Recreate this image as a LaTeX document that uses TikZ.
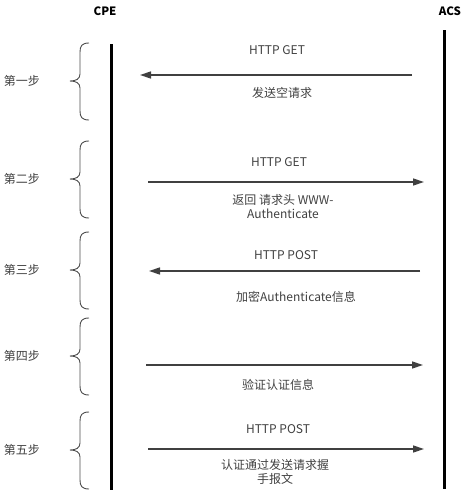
\documentclass[tikz,border=0pt]{standalone}
\usepackage{fontspec}
\setmainfont{Noto Sans CJK SC}
\usetikzlibrary{arrows.meta}

\begin{document}
\begin{tikzpicture}[
		x=1pt,
		y=-1pt,
		msg/.style={draw=black!75,line width=1.4pt,-{Triangle[length=11pt,width=7pt]}},
		life/.style={line width=3pt},
		lbl/.style={font=\fontsize{12}{14}\selectfont,text=black!75,inner sep=0pt,align=center},
		head/.style={font=\bfseries\fontsize{11.5}{13}\selectfont,inner sep=0pt},
		bracepath/.style={draw=black!70,line width=0.9pt},
	]
		\useasboundingbox (0,0) rectangle (474,496);
		
		\node[head] (cpe) at (105,11) {CPE};
		\node[head] (acs) at (450,11) {ACS};
		\coordinate (cpetop) at (111,44);
		\coordinate (cpebot) at (111,490);
		\coordinate (acstop) at (444,30);
		\coordinate (acsbot) at (444,489);
		\draw[life] (cpetop) -- (cpebot);
		\draw[life] (acstop) -- (acsbot);
		
		\foreach \n/\y/\t in {1/43/第一步,2/141/第二步,3/232/第三步,4/318/第四步,5/412/第五步}{
			\node[lbl] (step\n) at (22,\y+38) {\t};
			\draw[bracepath] (89,\y) .. controls (82,\y) and (80,\y+3) .. (80,\y+9) -- (80,\y+31)
				.. controls (80,\y+36) and (76,\y+38) .. (70,\y+38)
				.. controls (76,\y+38) and (80,\y+40) .. (80,\y+45) -- (80,\y+68)
				.. controls (80,\y+74) and (82,\y+77) .. (89,\y+77);
		}
		
		% step 1
		\coordinate (s1a) at (412,75);
		\coordinate (s1b) at (140,75);
		\draw[msg] (s1a) -- (s1b);
		\node[lbl] (get1) at (277,50) {HTTP GET};
		\node[lbl] (txt1) at (282,93) {发送空请求};
		
		% step 2
		\coordinate (s2a) at (148,182);
		\coordinate (s2b) at (424,182);
		\draw[msg] (s2a) -- (s2b);
		\node[lbl] (get2) at (279,162) {HTTP GET};
		\node[lbl] (txt2) at (283,207) {返回 请求头 WWW-\\Authenticate};
		
		% step 3
		\coordinate (s3a) at (420,271);
		\coordinate (s3b) at (149,271);
		\draw[msg] (s3a) -- (s3b);
		\node[lbl] (post3) at (286,255) {HTTP POST};
		\node[lbl] (txt3) at (296,297) {加密Authenticate信息};
		
		% step 4
		\coordinate (s4a) at (146,365);
		\coordinate (s4b) at (423,365);
		\draw[msg] (s4a) -- (s4b);
		\node[lbl] (txt4) at (278,385) {验证认证信息};
		
		% step 5
		\coordinate (s5a) at (148,449);
		\coordinate (s5b) at (424,449);
		\draw[msg] (s5a) -- (s5b);
		\node[lbl] (post5) at (278,429) {HTTP POST};
		\node[lbl] (txt5) at (275,472) {认证通过发送请求握\\手报文};
	\end{tikzpicture}
\end{document}
